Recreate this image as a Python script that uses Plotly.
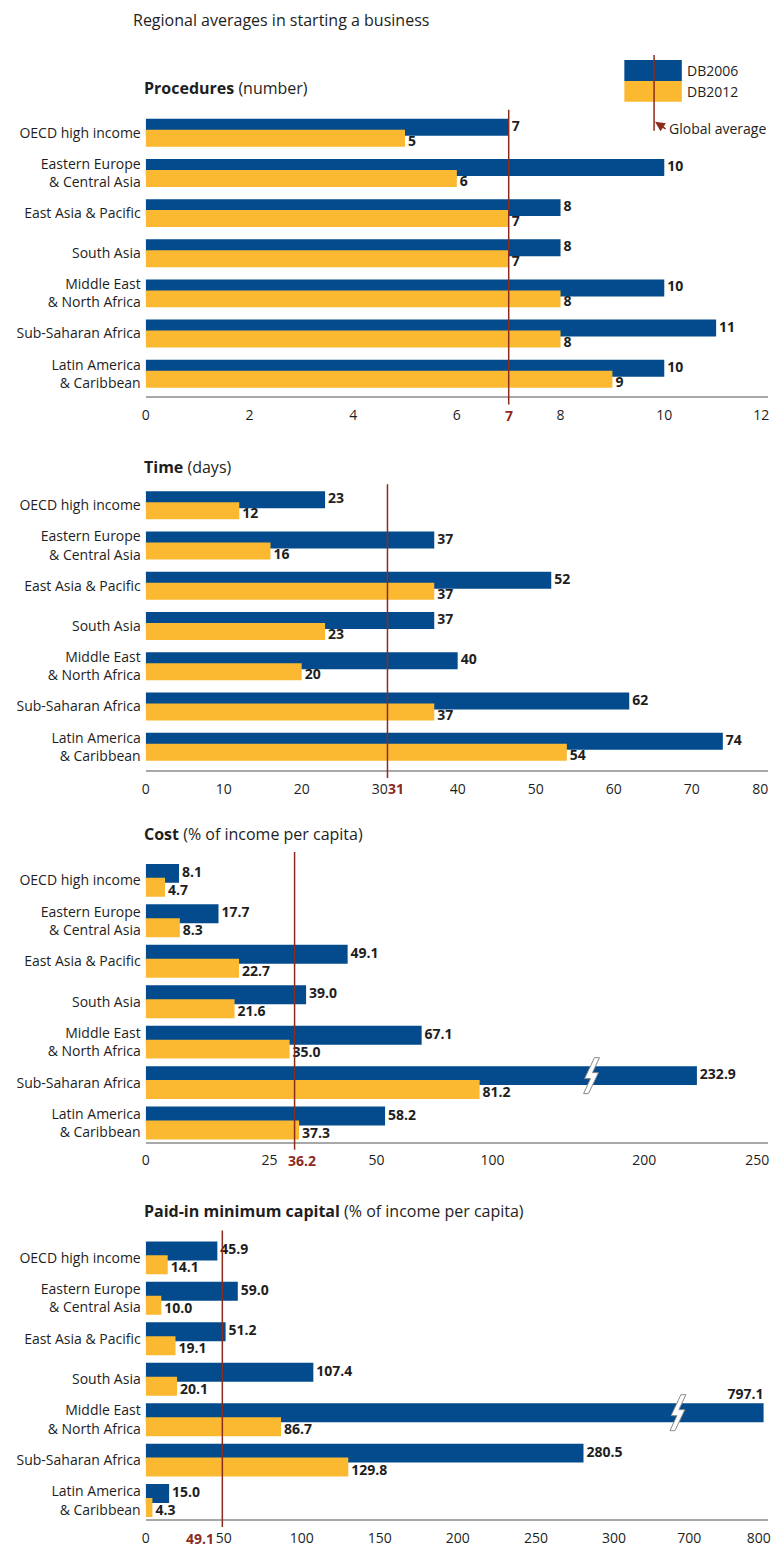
import plotly.graph_objects as go

# ── Data ──
REGIONS = [
    "OECD high income",
    "Eastern Europe<br>& Central Asia",
    "East Asia & Pacific",
    "South Asia",
    "Middle East<br>& North Africa",
    "Sub-Saharan Africa",
    "Latin America<br>& Caribbean",
]

PROC_2006 = [7, 10, 8, 8, 10, 11, 10]
PROC_2012 = [5, 6, 7, 7, 8, 8, 9]
PROC_AVG = 7

TIME_2006 = [23, 37, 52, 37, 40, 62, 74]
TIME_2012 = [12, 16, 37, 23, 20, 37, 54]
TIME_AVG = 31

COST_2006 = [8.1, 17.7, 49.1, 39.0, 67.1, 232.9, 58.2]
COST_2012 = [4.7, 8.3, 22.7, 21.6, 35.0, 81.2, 37.3]
COST_AVG = 36.2

CAP_2006 = [45.9, 59.0, 51.2, 107.4, 797.1, 280.5, 15.0]
CAP_2012 = [14.1, 10.0, 19.1, 20.1, 86.7, 129.8, 4.3]
CAP_AVG = 49.1

PROC_TICKS = ["0", "2", "4", "6", "8", "10", "12"]
TIME_TICKS = ["0", "10", "20", "30", "40", "50", "60", "70", "80"]
COST_TICKS = ["0", "25", "50", "100", "200", "250"]
CAP_TICKS = ["0", "50", "100", "150", "200", "250", "300", "700", "800"]

# ── Style ──
W, H = 774, 1547
BLUE = "#034b8d"
GOLD = "#fbb931"
AVG_RED = "#8b2c1e"
AXIS_GREY = "#a8a8a8"
INK = "#1e1e1e"
FONT = "Open Sans"
X0, X1 = 143, 771  # plot area left/right in px


def fx(px):
    return px / W


def fy(py):
    return 1 - py / H


def squeeze(v, cut, cut_at, slope):
    # broken axis: values past the cut are drawn compressed
    if cut is None or v <= cut:
        return v
    return cut_at + (v - cut) * slope


PANELS = [
    dict(title="<b>Procedures</b> (number)", title_y=88, top=110, c0=133, pitch=40.2, axis=397,
         a=PROC_2006, b=PROC_2012, avg=PROC_AVG, avg_dx=0, pxu=52.33, fmt="{:g}",
         ticks=PROC_TICKS, tickpos=[0, 2, 4, 6, 8, 10, 11.87],
         bars=(-0.348, 0.422, -0.075, 0.422), brk=(None, 0, 0), brk_mark=None),
    dict(title="<b>Time</b> (days)", title_y=468, top=485, c0=506, pitch=40.3, axis=771,
         a=TIME_2006, b=TIME_2012, avg=TIME_AVG, avg_dx=9, pxu=7.87, fmt="{:g}",
         ticks=TIME_TICKS, tickpos=[0, 10, 20, 30, 40, 50, 60, 70, 78.8],
         bars=(-0.348, 0.422, -0.075, 0.422), brk=(None, 0, 0), brk_mark=None),
    dict(title="<b>Cost</b> (% of income per capita)", title_y=835, top=853, c0=881.5, pitch=40.5, axis=1143,
         a=COST_2006, b=COST_2012, avg=COST_AVG, avg_dx=7, pxu=4.15, fmt="{:.1f}",
         ticks=COST_TICKS, tickpos=[0, 30.1, 56.1, 84.3, 121.2, 148.7],
         bars=(-0.407, 0.469, -0.062, 0.469), brk=(200, 121.2, 0.39), brk_mark=(108.4, 5)),
    dict(title="<b>Paid-in minimum capital</b> (% of income per capita)", title_y=1213, top=1232, c0=1259.5,
         pitch=40.5, axis=1521,
         a=CAP_2006, b=CAP_2012, avg=CAP_AVG, avg_dx=-22, pxu=1.575, fmt="{:.1f}",
         ticks=CAP_TICKS, tickpos=[0, 50, 100, 150, 200, 250, 300, 348.3, 392.8],
         bars=(-0.407, 0.469, -0.062, 0.469), brk=(700, 348.3, 0.49), brk_mark=(341, 4)),
]

fig = go.Figure()
layout = dict(
    width=W, height=H, margin=dict(l=0, r=0, t=0, b=0),
    paper_bgcolor="white", plot_bgcolor="white",
    showlegend=False, barmode="overlay",
    font=dict(family=FONT, color=INK, size=14),
)
shapes, annotations = [], []

for n, p in enumerate(PANELS, start=1):
    sfx = "" if n == 1 else str(n)
    xa, ya = "x" + sfx, "y" + sfx
    xmax = (X1 - X0) / p["pxu"]
    rows = list(range(len(REGIONS)))
    b_off, b_w, y_off, y_w = p["bars"]
    cut, cut_at, slope = p["brk"]

    for vals, off, wd, color in [(p["a"], b_off, b_w, BLUE), (p["b"], y_off, y_w, GOLD)]:
        shown = [squeeze(v, cut, cut_at, slope) for v in vals]
        fig.add_trace(go.Bar(
            x=shown, y=rows, orientation="h", offset=off, width=wd,
            marker=dict(color=color, line=dict(width=0)),
            xaxis=xa, yaxis=ya, hoverinfo="skip",
        ))
        # value labels
        tx, ty, tt, tp = [], [], [], []
        shift = 0 if color == BLUE else 4 / p["pitch"]
        for i, (v, s) in enumerate(zip(vals, shown)):
            if s + 40 / p["pxu"] > xmax:
                tx.append(s)
                ty.append(i + off - 1 / p["pitch"])
                tp.append("top left")
            else:
                tx.append(s + 3 / p["pxu"])
                ty.append(i + off + wd / 2 + shift)
                tp.append("middle right")
            tt.append(p["fmt"].format(v))
        fig.add_trace(go.Scatter(
            x=tx, y=ty, mode="text", text=tt, textposition=tp,
            textfont=dict(family=FONT, size=14, color=INK, weight="bold"),
            xaxis=xa, yaxis=ya, hoverinfo="skip", cliponaxis=False,
        ))

    layout["xaxis" + sfx] = dict(
        domain=[fx(X0), fx(X1)], range=[0, xmax], anchor=ya,
        showline=True, linecolor=AXIS_GREY, linewidth=2, showgrid=False, zeroline=False,
        ticks="", tickvals=p["tickpos"], ticktext=p["ticks"], ticklabelstandoff=5,
        tickfont=dict(family=FONT, size=14, color=INK), fixedrange=True,
    )
    layout["yaxis" + sfx] = dict(
        domain=[fy(p["axis"]), fy(p["top"])],
        range=[(p["axis"] - p["c0"]) / p["pitch"], -(p["c0"] - p["top"]) / p["pitch"]],
        anchor=xa, showline=False, showgrid=False, zeroline=False,
        ticks="", tickvals=rows, ticktext=REGIONS, ticklabelstandoff=4,
        tickfont=dict(family=FONT, size=14, color=INK), fixedrange=True,
    )

    # global average line + label
    shapes.append(dict(type="line", xref=xa, yref=f"{ya} domain", x0=p["avg"], x1=p["avg"],
                       y0=-0.028, y1=1, line=dict(color=AVG_RED, width=1.5)))
    annotations.append(dict(xref=xa, yref="paper", x=p["avg"], y=fy(p["axis"] + 19),
                            xshift=p["avg_dx"], yanchor="middle", text=f"<b>{p['avg']:g}</b>",
                            showarrow=False, font=dict(family=FONT, size=14, color=AVG_RED)))

    # panel title
    annotations.append(dict(xref="paper", yref="paper", x=fx(139), y=fy(p["title_y"]),
                            xanchor="left", yanchor="middle", text=p["title"], showarrow=False,
                            font=dict(family=FONT, size=16, color=INK)))

    # axis break symbol across the long bar
    if p["brk_mark"]:
        bx, row = p["brk_mark"]
        by = row + b_off + b_w / 2
        pts = [(3, -18), (8, -18), (1, -3), (7, -3), (-3, 18), (-8, 18), (-1, 3), (-7, 3)]
        path = "M " + " L ".join(f"{bx + dx / p['pxu']},{by + dy / p['pitch']}" for dx, dy in pts) + " Z"
        shapes.append(dict(type="path", xref=xa, yref=ya, path=path,
                           fillcolor="white", line=dict(color="#8a8a8a", width=1)))

# chart title
annotations.append(dict(xref="paper", yref="paper", x=fx(128), y=fy(20), xanchor="left",
                        yanchor="middle", text="Regional averages in starting a business",
                        showarrow=False, font=dict(family=FONT, size=16, color=INK)))

# legend (drawn by hand like the original key)
for (y0, y1), color, label, ly in [((60, 81), BLUE, "DB2006", 71), ((81, 102), GOLD, "DB2012", 92)]:
    shapes.append(dict(type="rect", xref="paper", yref="paper", x0=fx(626), x1=fx(684),
                       y0=fy(y1), y1=fy(y0), fillcolor=color, line=dict(width=0)))
    annotations.append(dict(xref="paper", yref="paper", x=fx(687), y=fy(ly), xanchor="left",
                            yanchor="middle", text=label, showarrow=False,
                            font=dict(family=FONT, size=14, color=INK)))
shapes.append(dict(type="line", xref="paper", yref="paper", x0=fx(656), x1=fx(656),
                   y0=fy(131), y1=fy(55), line=dict(color=AVG_RED, width=1.5)))
annotations.append(dict(xref="paper", yref="paper", x=fx(657), y=fy(122), ax=12, ay=8,
                        text="", showarrow=True, arrowhead=2, arrowsize=1.3, arrowwidth=1.5,
                        arrowcolor=AVG_RED))
annotations.append(dict(xref="paper", yref="paper", x=fx(669), y=fy(129), xanchor="left",
                        yanchor="middle", text="Global average", showarrow=False,
                        font=dict(family=FONT, size=14, color=INK)))

layout["shapes"] = shapes
layout["annotations"] = annotations
fig.update_layout(**layout)

# drop the default page margin so the figure fills the window exactly
fig.write_html("out.html", config={"displayModeBar": False},
               post_script="document.body.style.margin='0';"
                           "document.body.style.overflow='hidden';")
